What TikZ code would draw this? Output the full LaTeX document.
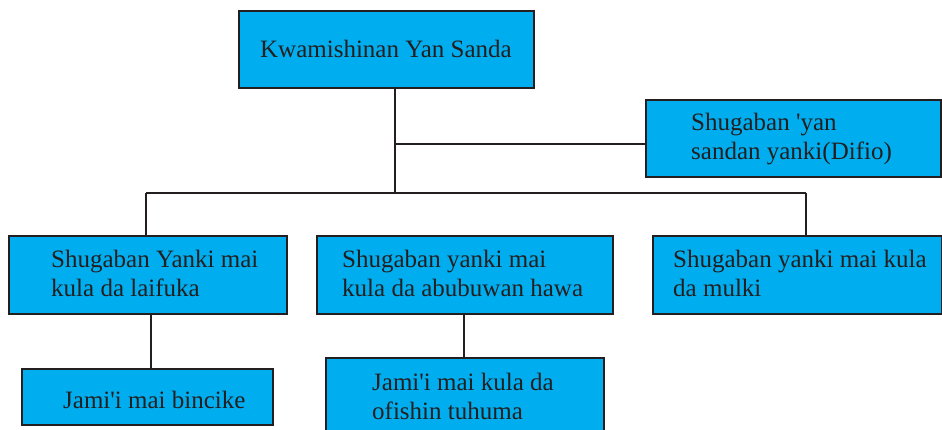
\documentclass[tikz,border=0pt]{standalone}
\usepackage{fontspec}
\setmainfont{Liberation Serif}
\definecolor{boxfill}{HTML}{00AEEF}
\definecolor{ink}{HTML}{231F20}
\tikzset{
  orgbox/.style={draw=ink, fill=boxfill, line width=2pt, inner sep=0pt, anchor=north west},
  orgtext/.style={inner sep=0pt, anchor=base west, align=left, text=ink,
    font=\fontsize{25}{29}\selectfont},
  link/.style={draw=ink, line width=1.8pt}
}
\begin{document}
\begin{tikzpicture}[x=1pt,y=-1pt]
\useasboundingbox (0,0) rectangle (942,430);
% boxes
\node[orgbox, minimum width=295pt, minimum height=77pt] (top) at (238,10) {};
\node[orgbox, minimum width=295pt, minimum height=77pt] (dep) at (645,99) {};
\node[orgbox, minimum width=278pt, minimum height=78pt] (b1) at (8,235) {};
\node[orgbox, minimum width=296pt, minimum height=78pt] (b2) at (316,235) {};
\node[orgbox, minimum width=289pt, minimum height=78pt] (b3) at (652,235) {};
\node[orgbox, minimum width=251pt, minimum height=56pt] (b4) at (21,368) {};
\node[orgbox, minimum width=278pt, minimum height=90pt] (b5) at (325,357) {};
% texts (base = baseline of last line)
\node[orgtext, anchor=base] (ttop) at (386,58) {Kwamishinan Yan Sanda};
\node[orgtext] (tdep) at (691,160) {Shugaban \textquotesingle yan\\sandan yanki(Difio)};
\node[orgtext] (tb1) at (51,297) {Shugaban Yanki mai\\kula da laifuka};
\node[orgtext] (tb2) at (342,297) {Shugaban yanki mai\\kula da abubuwan hawa};
\node[orgtext] (tb3) at (673,297) {Shugaban yanki mai kula\\da mulki};
\node[orgtext] (tb4) at (63,408) {Jami\textquotesingle i mai bincike};
\node[orgtext] (tb5) at (372,419) {Jami\textquotesingle i mai kula da\\ofishin tuhuma};
% junctions
\coordinate (jdep) at (395,144);
\coordinate (jbus) at (395,193);
\coordinate (bl) at (146,193);
\coordinate (br) at (806,193);
\coordinate (x1) at (151,0);
\coordinate (x2) at (464,0);
% connectors
\draw[link] (top.south -| jdep) -- (jbus);
\draw[link] (jdep) -- (jdep -| dep.west);
\draw[link] (bl) -- (br);
\draw[link] (bl) -- (bl |- b1.north);
\draw[link] (br) -- (br |- b3.north);
\draw[link] (b1.south -| x1) -- (b4.north -| x1);
\draw[link] (b2.south -| x2) -- (b5.north -| x2);
\end{tikzpicture}
\end{document}
